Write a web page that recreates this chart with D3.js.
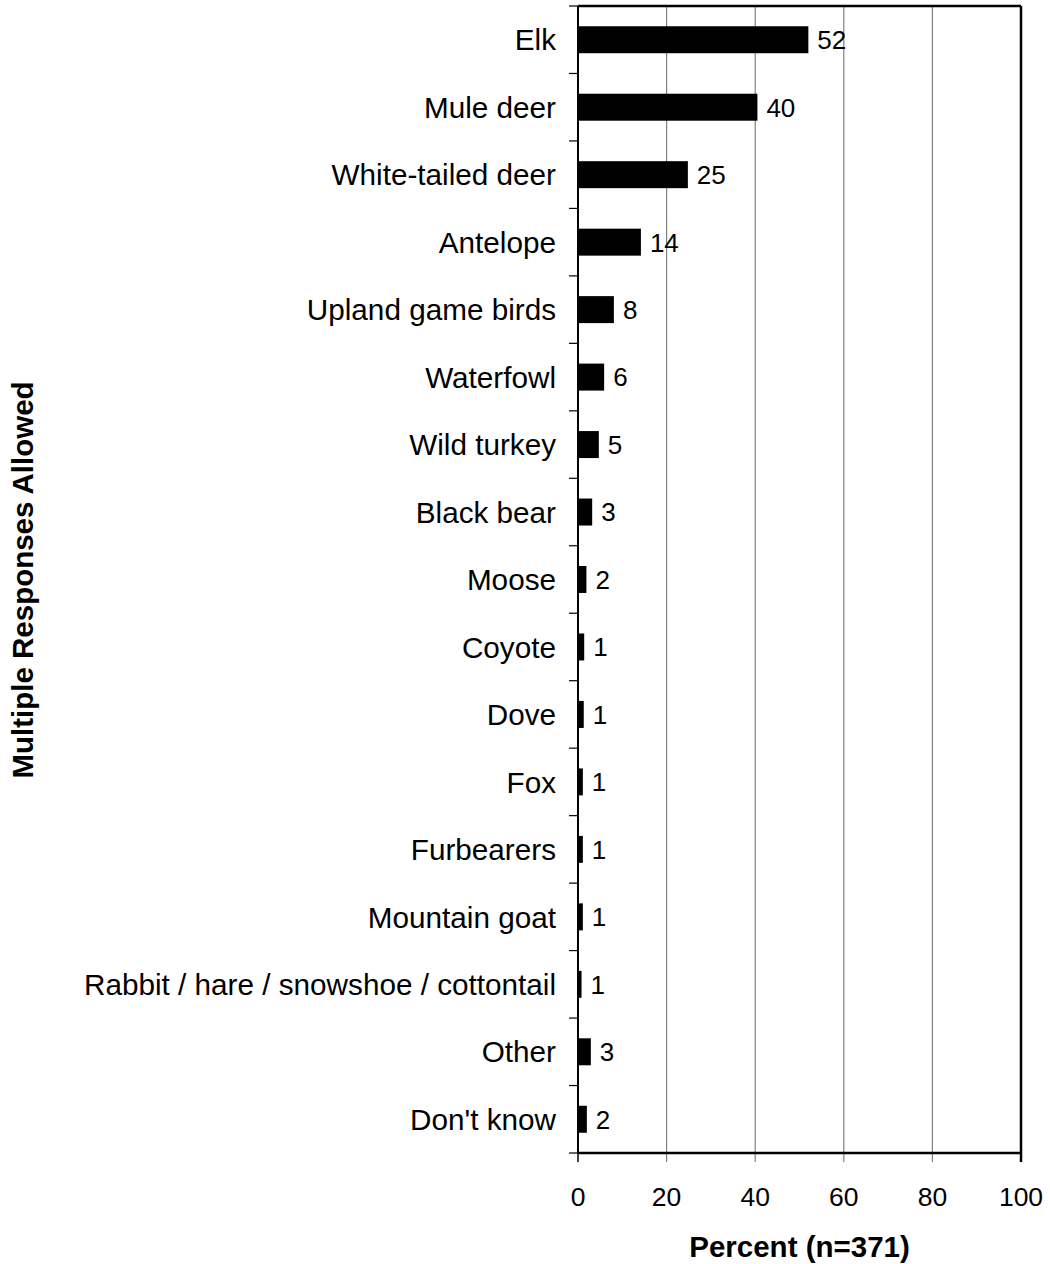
<!DOCTYPE html>
<meta charset="utf-8">
<style>
body{margin:0;background:#fff;}
svg text{font-family:Arial,"Liberation Sans",sans-serif;fill:#000;}
</style>
<svg id="chart" width="1050" height="1264"></svg>
<script src="https://d3js.org/d3.v7.min.js"></script>
<script>
// species hunted, percent of respondents (multiple responses allowed)
const species = ["Elk","Mule deer","White-tailed deer","Antelope","Upland game birds","Waterfowl",
  "Wild turkey","Black bear","Moose","Coyote","Dove","Fox","Furbearers","Mountain goat",
  "Rabbit / hare / snowshoe / cottontail","Other","Don't know"]
const percents = [52,40.5,24.8,14.2,8.1,5.9,4.7,3.2,1.9,1.4,1.3,1.1,1.1,1.1,0.8,2.9,2.0]
const shownLabels = [52,40,25,14,8,6,5,3,2,1,1,1,1,1,1,3,2]
const xTicks = [0,20,40,60,80,100]

const m = {top:6, right:29, bottom:111, left:578}
const W = 1050, H = 1264
const w = W - m.left - m.right, h = H - m.top - m.bottom

const svg = d3.select('#chart')
const g = svg.append('g').attr('transform', `translate(${m.left},${m.top})`)

const x = d3.scaleLinear().domain([0,100]).range([0,w])
const y = d3.scaleBand().domain(species).range([0,h]).paddingInner(0.6).paddingOuter(0.3)
const band = h / species.length

// gridlines (grey) incl. the part reaching below the axis as ticks
g.selectAll('line.grid').data(xTicks.slice(1,-1)).enter().append('line')
  .attr('x1', d => x(d)).attr('x2', d => x(d))
  .attr('y1', 0).attr('y2', h + 9)
  .attr('stroke', '#808080').attr('stroke-width', 1.2)

// bars
g.selectAll('rect.bar').data(species).enter().append('rect')
  .attr('x', 0)
  .attr('y', d => y(d))
  .attr('width', (d,i) => x(percents[i]))
  .attr('height', y.bandwidth())
  .attr('fill', '#000')

// value labels
g.selectAll('text.val').data(species).enter().append('text')
  .attr('x', (d,i) => x(percents[i]) + 9)
  .attr('y', d => y(d) + y.bandwidth()/2)
  .attr('dy', '0.36em')
  .style('font-size', '26px')
  .text((d,i) => shownLabels[i])

// frame: top and right borders
g.append('line').attr('x1',0).attr('x2',w).attr('y1',0).attr('y2',0)
  .attr('stroke','#000').attr('stroke-width',2.5)
g.append('line').attr('x1',w).attr('x2',w).attr('y1',0).attr('y2',h + 9)
  .attr('stroke','#000').attr('stroke-width',2.5)

// y axis
const yTickPos = d3.range(species.length + 1).map(i => i * band)
g.append('line').attr('x1',0).attr('x2',0).attr('y1',0).attr('y2',h)
  .attr('stroke','#000').attr('stroke-width',2)
g.selectAll('line.ytick').data(yTickPos).enter().append('line')
  .attr('x1', -9).attr('x2', 0).attr('y1', d => d).attr('y2', d => d)
  .attr('stroke', '#000').attr('stroke-width', 1.2)
g.selectAll('text.cat').data(species).enter().append('text')
  .attr('x', -22)
  .attr('y', d => y(d) + y.bandwidth()/2)
  .attr('dy', '0.36em')
  .attr('text-anchor', 'end')
  .style('font-size', '29.7px')
  .text(d => d)

// x axis
g.append('line').attr('x1',0).attr('x2',w).attr('y1',h).attr('y2',h)
  .attr('stroke','#000').attr('stroke-width',2.5)
g.selectAll('line.xtick').data([0,100]).enter().append('line')
  .attr('x1', d => x(d)).attr('x2', d => x(d)).attr('y1', h).attr('y2', h + 9)
  .attr('stroke', '#000').attr('stroke-width', 1.5)
g.selectAll('text.xt').data(xTicks).enter().append('text')
  .attr('x', d => x(d))
  .attr('y', h + 53)
  .attr('text-anchor', 'middle')
  .style('font-size', '26.5px')
  .text(d => d)

// axis titles
svg.append('text')
  .attr('x', m.left + w/2).attr('y', 1257)
  .attr('text-anchor', 'middle')
  .style('font-size', '29.5px').style('font-weight', 'bold')
  .text('Percent (n=371)')
svg.append('text')
  .attr('transform', 'translate(33,580) rotate(-90)')
  .attr('text-anchor', 'middle')
  .style('font-size', '29.5px').style('font-weight', 'bold')
  .text('Multiple Responses Allowed')
</script>
